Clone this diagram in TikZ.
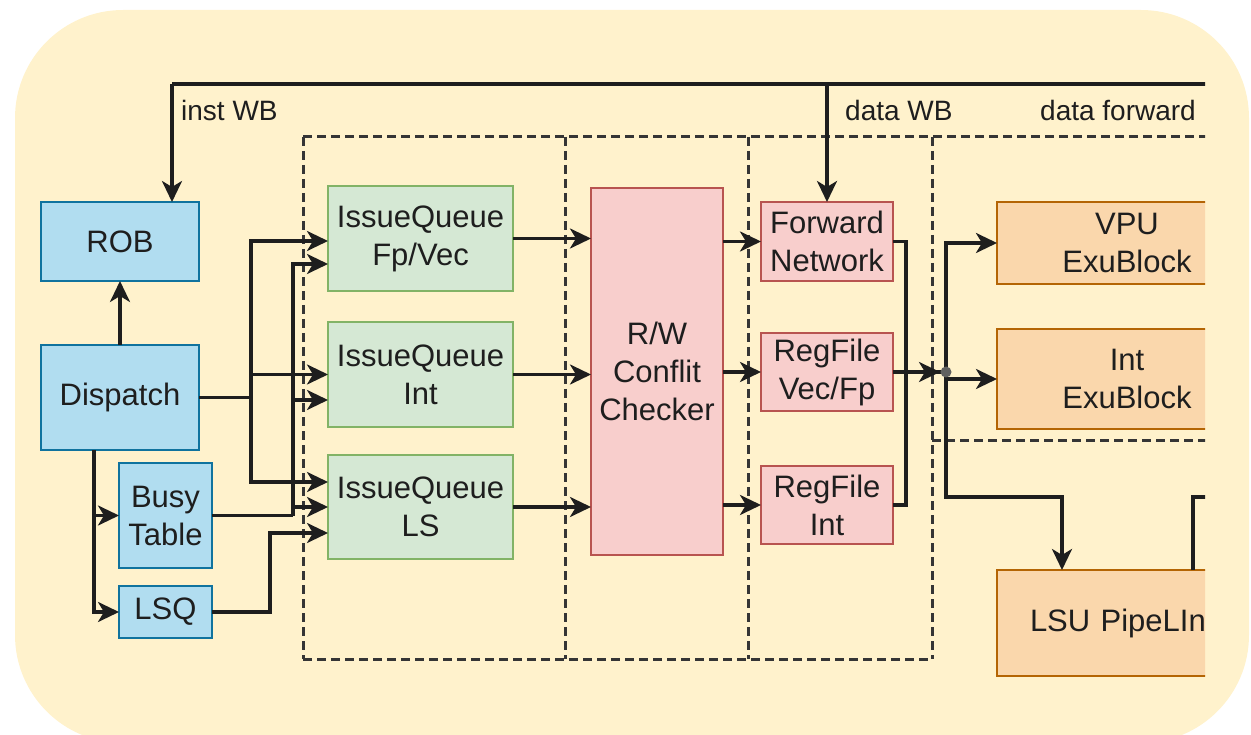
\documentclass[tikz,border=0pt]{standalone}
\usepackage{fontspec}
\setmainfont{Liberation Sans}
\usetikzlibrary{arrows.meta,calc}
\definecolor{panel}{HTML}{FFF2CC}
\definecolor{blueF}{HTML}{B1DDF0}\definecolor{blueD}{HTML}{10739E}
\definecolor{greenF}{HTML}{D5E8D4}\definecolor{greenD}{HTML}{82B366}
\definecolor{redF}{HTML}{F8CECC}\definecolor{redD}{HTML}{B85450}
\definecolor{orangeF}{HTML}{FAD7AC}\definecolor{orangeD}{HTML}{B46504}
\definecolor{ink}{HTML}{1E1E1E}
\begin{document}
\begin{tikzpicture}[x=1pt,y=-1pt,
  blk/.style={draw, line width=2.6pt, inner sep=0pt, outer sep=0pt, align=center,
    text=ink, font=\fontsize{31}{38}\selectfont},
  bluebox/.style={blk, fill=blueF, draw=blueD},
  greenbox/.style={blk, fill=greenF, draw=greenD},
  redbox/.style={blk, fill=redF, draw=redD},
  exubox/.style={blk, fill=orangeF, draw=orangeD},
  wire/.style={draw=ink, line width=3.3pt},
  arr/.style={wire, -{Stealth[length=21pt,width=20pt,inset=6pt]}},
  region/.style={draw=ink!90, line width=3pt, dash pattern=on 9pt off 5pt},
  tag/.style={anchor=west, inner sep=0pt, text=ink, font=\fontsize{28}{32}\selectfont}]
\useasboundingbox (0,0) rectangle (1251,735);
% rounded panel behind the pipeline
\fill[panel, rounded corners=108pt] (15,10) rectangle (1249,743);

\begin{scope}
\clip (0,0) rectangle (1205,735);

% pipeline stage regions
\draw[region] (303,137) -- (1260,137);
\draw[region] (303,659) -- (932,659);
\draw[region] (932,440) -- (1260,440);
\foreach \xs in {303,565,748,932} \draw[region] (\xs,137) -- (\xs,659);

% blocks
\node[bluebox, minimum width=158pt, minimum height=79pt] (rob) at (120,241.5) {ROB};
\node[bluebox, minimum width=158pt, minimum height=105pt] (disp) at (120,397.5) {Dispatch};
\node[bluebox, minimum width=93pt, minimum height=105pt] (busy) at (165.5,515.5) {Busy\\Table};
\node[bluebox, minimum width=93pt, minimum height=52pt] (lsq) at (165.5,612) {LSQ};

\node[greenbox, minimum width=185pt, minimum height=105pt] (iqfp) at (420.5,238.5) {IssueQueue\\Fp/Vec};
\node[greenbox, minimum width=185pt, minimum height=105pt] (iqint) at (420.5,374.5) {IssueQueue\\Int};
\node[greenbox, minimum width=185pt, minimum height=104pt] (iqls) at (420.5,507) {IssueQueue\\LS};

\node[redbox, minimum width=132pt, minimum height=367pt] (chk) at (657,371.5) {R/W\\Conflit\\Checker};
\node[redbox, minimum width=132pt, minimum height=79pt] (fwd) at (827,241.5) {Forward\\Network};
\node[redbox, minimum width=132pt, minimum height=78pt] (regvf) at (827,372) {RegFile\\Vec/Fp};
\node[redbox, minimum width=132pt, minimum height=78pt] (regint) at (827,505) {RegFile\\Int};

\node[exubox, minimum width=260pt, minimum height=82pt] (vpu) at (1127,243) {VPU\\ExuBlock};
\node[exubox, minimum width=260pt, minimum height=100pt] (intexu) at (1127,379) {Int\\ExuBlock};
\node[exubox, minimum height=106pt, text width=194pt, inner xsep=33pt, align=left] (lsu) at (1127,623) {LSU PipeLIn};

% write-back bus along the top
\coordinate (instwb) at (172,84);
\coordinate (datawb) at (827,84);
\coordinate (busend) at (1260,84);
\draw[wire] (busend) -- (instwb);
\draw[arr] (instwb) -- (instwb |- rob.north);
\draw[arr] (datawb) -- (fwd.north);
\node[tag] (lblinst) at (181,110) {inst WB};
\node[tag] (lbldata) at (845,110) {data WB};
\node[tag] (lblfwd) at (1040,110) {data forward};

% dispatch stage
\draw[arr] (disp) -- (rob);
\coordinate (dsplit) at ($(disp.south)+(-26,0)$);
\draw[arr] (dsplit) |- (busy.west);
\draw[arr] (dsplit) |- (lsq.west);

\coordinate (dbus) at (251,397.5);
\draw[wire] (disp.east |- dbus) -- (dbus);
\draw[arr] (dbus) |- ($(iqfp.west)+(0,2.5)$);
\draw[arr] (dbus) |- (iqint.west);
\draw[arr] (dbus) |- ($(iqls.west)+(0,-25)$);

\coordinate (bbus) at (293,515.5);
\draw[wire] (busy.east) -- (bbus);
\draw[arr] (bbus) |- ($(iqfp.west)+(0,25.5)$);
\draw[arr] (bbus) |- ($(iqint.west)+(0,25.5)$);
\draw[arr] (bbus) |- (iqls.west);

\draw[arr] (lsq.east) -- ++(58,0) |- ($(iqls.west)+(0,26)$);

% issue to conflict check to register read
\draw[arr] (iqfp.east) -- (iqfp.east -| chk.west);
\draw[arr] (iqint.east) -- (iqint.east -| chk.west);
\draw[arr] (iqls.east) -- (iqls.east -| chk.west);
\draw[arr] (chk.east |- fwd.west) -- (fwd.west);
\draw[arr] (chk.east |- regvf.west) -- (regvf.west);
\draw[arr] (chk.east |- regint.west) -- (regint.west);

% operand merge and distribution to execution blocks
\coordinate (jn) at (946,372);
\draw[wire] (fwd.east) -- ++(13,0) |- (jn);
\draw[wire] (regint.east) -- ++(13,0) |- (jn);
\draw[arr, shorten >=6pt] (regvf.east) -- (jn);
\draw[arr] (jn) |- (vpu.west);
\draw[arr] (jn) |- (intexu.west);
\draw[arr] (jn) |- ($(lsu.north west)+(65,-73)$) -- ($(lsu.north west)+(65,0)$);
\draw[wire] ($(lsu.north west)+(196,0)$) |- ++(80,-73);
\fill[gray!75!black] (jn) circle (5.5pt);
\end{scope}
\end{tikzpicture}
\end{document}
